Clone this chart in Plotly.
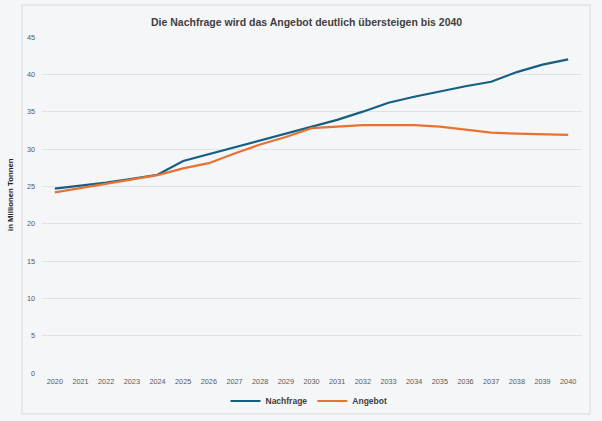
import plotly.graph_objects as go

years = [str(y) for y in range(2020, 2041)]
nachfrage = [24.7, 25.1, 25.5, 26.0, 26.55, 28.4, 29.3, 30.2, 31.1, 32.0, 33.0,
             33.9, 35.0, 36.2, 37.0, 37.75, 38.4, 39.0, 40.3, 41.3, 42.0]
angebot = [24.2, 24.8, 25.4, 25.9, 26.5, 27.4, 28.1, 29.4, 30.6, 31.6, 32.8,
           33.0, 33.2, 33.2, 33.2, 33.0, 32.6, 32.2, 32.05, 32.0, 31.9]
y_ticks = [0, 5, 10, 15, 20, 25, 30, 35, 40, 45]

W, H = 602, 421
L, R, T, B = 42, 21, 37, 48
pw, ph = W - L - R, H - T - B
BG = "#f5f6f8"

def px_x(p):
    return (p - L) / pw

def px_y(p):
    return (H - B - p) / ph

font_fam = "Liberation Sans Narrow, Arial Narrow, Liberation Sans, Arial, sans-serif"

fig = go.Figure()
fig.add_trace(go.Scatter(x=years, y=nachfrage, mode="lines", name="Nachfrage",
                         line=dict(color="#156082", width=2.2)))
fig.add_trace(go.Scatter(x=years, y=angebot, mode="lines", name="Angebot",
                         line=dict(color="#E97132", width=2.2)))

fig.update_layout(
    width=W, height=H,
    margin=dict(l=L, r=R, t=T, b=B, autoexpand=False),
    paper_bgcolor=BG,
    plot_bgcolor=BG,
    font=dict(family=font_fam, color="#595959"),
    showlegend=True,
    legend=dict(orientation="h", x=px_x(309), xanchor="center", y=px_y(401), yanchor="middle",
                font=dict(family=font_fam, size=8.5, color="#404040", weight="bold"),
                bgcolor="rgba(0,0,0,0)", itemwidth=30, tracegroupgap=0),
    xaxis=dict(type="category", range=[-0.5, 20.5], showgrid=False, zeroline=False,
               showline=False, ticks="", tickfont=dict(size=7.3, color="#595959"),
               ticklabelstandoff=3, fixedrange=True),
    yaxis=dict(range=[0, 45], tickvals=y_ticks, showgrid=True, gridcolor="#e1e2e5",
               gridwidth=1, zeroline=False, showline=False, ticks="",
               tickfont=dict(size=7.3, color="#595959"), ticklabelstandoff=6,
               fixedrange=True),
    shapes=[dict(type="rect", xref="paper", yref="paper",
                 x0=px_x(22), x1=px_x(590), y0=px_y(414), y1=px_y(5),
                 line=dict(color="#e3e4e7", width=1.5), fillcolor="rgba(0,0,0,0)",
                 layer="below")],
    annotations=[
        dict(text="<b>Die Nachfrage wird das Angebot deutlich übersteigen bis 2040</b>",
             xref="paper", yref="paper", x=px_x(306), y=px_y(22),
             xanchor="center", yanchor="middle", showarrow=False,
             font=dict(family=font_fam, size=10.5, color="#404040")),
        dict(text="<b>in Millionen Tonnen</b>", textangle=-90,
             xref="paper", yref="paper", x=px_x(10), y=px_y(195),
             xanchor="center", yanchor="middle", showarrow=False,
             font=dict(family=font_fam, size=7.8, color="#222222")),
    ],
)

fig.write_html("out.html", config={"displayModeBar": False},
               post_script="document.body.style.margin='0';document.body.style.background='%s';" % BG)
